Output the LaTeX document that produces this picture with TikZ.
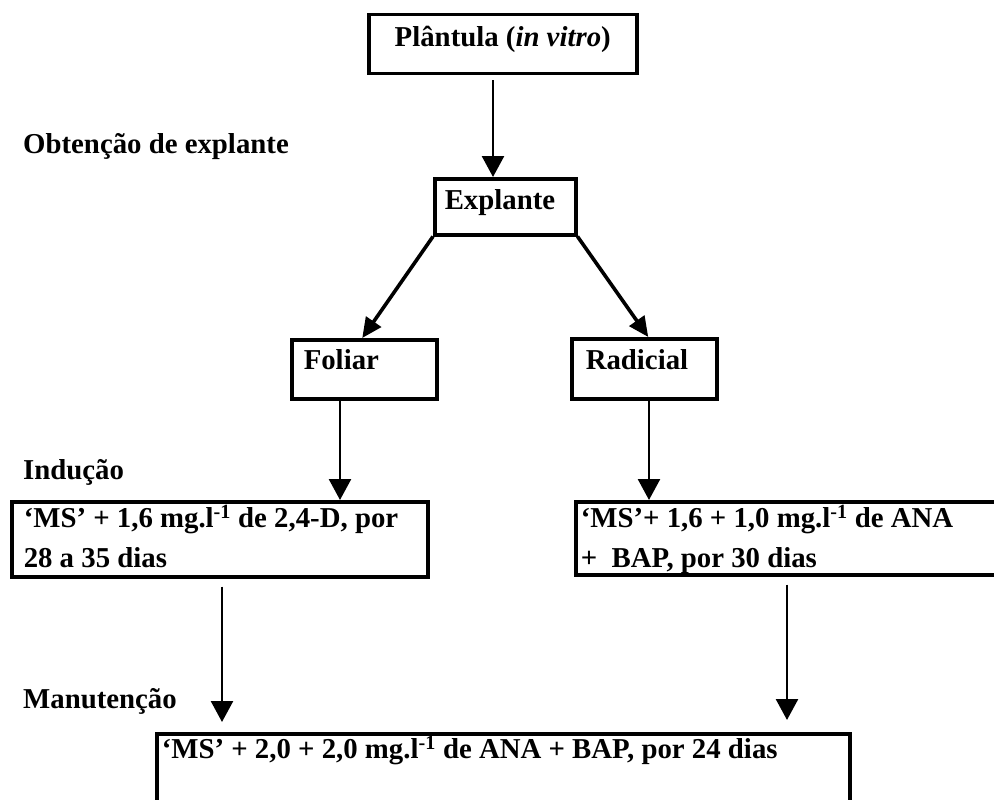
\documentclass[tikz,border=0pt]{standalone}
\usepackage{fontspec}
\setmainfont{Liberation Serif}
\usetikzlibrary{arrows.meta}
\begin{document}
\begin{tikzpicture}[x=1pt,y=-1pt,
  txt/.style={font=\fontsize{28.8}{40}\selectfont\bfseries},
  box/.style={txt, draw, line width=3.5pt, anchor=north west, inner ysep=0pt, align=flush left},
  lbl/.style={txt, anchor=base west, inner sep=0pt},
  arr/.style={line width=2.6pt, -{Triangle[width=22pt,length=21pt]}},
  darr/.style={line width=3.6pt, -{Triangle[width=18pt,length=20pt]}}]
\useasboundingbox (0,0) rectangle (994,800);
\clip (0,0) rectangle (994,800);
% boxes
\node[box, inner xsep=10pt, text width=248pt, align=flush center, text height=32pt, text depth=27pt] (pl) at (367,13) {Plântula (\textit{in vitro})};
\node[box, inner xsep=10pt, text width=121pt, text height=31pt, text depth=25pt] (ex) at (433,177) {Explante};
\node[box, inner xsep=12pt, text width=121pt, text height=30pt, text depth=29pt] (fo) at (290,338) {Foliar};
\node[box, inner xsep=14pt, text width=117pt, text height=31pt, text depth=29pt] (ra) at (570,337) {Radicial};
\node[box, inner xsep=12pt, text width=392pt, text height=26pt, text depth=49pt] (i1) at (10,500) {‘MS’ + 1,6 mg.l\textsuperscript{-1} de 2,4-D, por\\28 a 35 dias};
\node[box, inner xsep=5pt, text width=440pt, text height=26pt, text depth=47pt] (i2) at (574,500) {‘MS’+ 1,6 + 1,0 mg.l\textsuperscript{-1} de ANA\\+\ \ BAP, por 30 dias};
\node[box, inner xsep=5pt, text width=683pt, text height=25pt, text depth=90pt] (mb) at (155,732) {‘MS’ + 2,0 + 2,0 mg.l\textsuperscript{-1} de ANA + BAP, por 24 dias};
% stage labels
\node[lbl] (l1) at (23,153) {Obtenção de explante};
\node[lbl] (l2) at (23,479) {Indução};
\node[lbl] (l3) at (23,708) {Manutenção};
% connectors
\coordinate (a1) at (493,0);
\coordinate (a2) at (340,0);
\coordinate (a3) at (649,0);
\coordinate (a4) at (222,0);
\coordinate (a5) at (787,0);
\draw[arr, shorten <=5pt] (pl.south -| a1) -- (ex.north -| a1);
\draw[darr] (ex.south west) -- ([xshift=-2pt]fo.north);
\draw[darr] (ex.south east) -- ([xshift=4pt]ra.north);
\draw[arr] (fo.south -| a2) -- (i1.north -| a2);
\draw[arr] (ra.south -| a3) -- (i2.north -| a3);
\draw[arr, shorten <=8pt, shorten >=10pt] (i1.south -| a4) -- (mb.north -| a4);
\draw[arr, shorten <=8pt, shorten >=12pt] (i2.south -| a5) -- (mb.north -| a5);
\end{tikzpicture}
\end{document}
